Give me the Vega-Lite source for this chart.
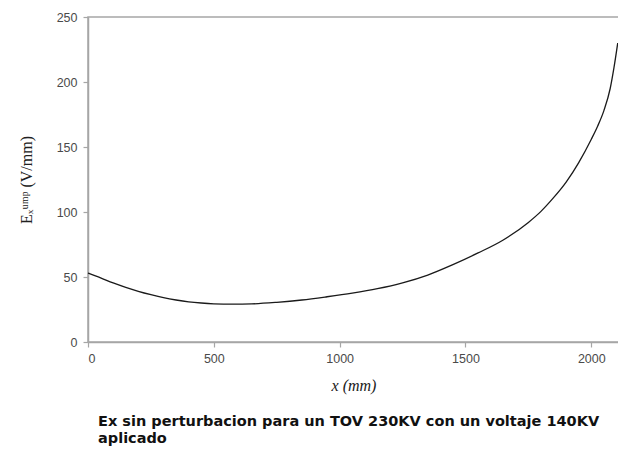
{
  "$schema": "https://vega.github.io/schema/vega-lite/v6.json",
  "width": 531,
  "height": 325,
  "autosize": "none",
  "padding": {"left": 88, "top": 17, "right": 0, "bottom": 109},
  "background": "white",
  "config": {
    "view": {"stroke": "#a6a6a6", "strokeWidth": 1.5},
    "axis": {
      "domainColor": "#a6a6a6",
      "domainWidth": 1.5,
      "tickColor": "#a6a6a6",
      "tickWidth": 1.2,
      "tickSize": 5,
      "grid": false,
      "labelFont": "Liberation Sans",
      "labelFontSize": 12.5,
      "labelColor": "#4a4a4a",
      "titleFont": "Liberation Serif",
      "titleFontSize": 16,
      "titleFontWeight": "normal",
      "titleColor": "#202020"
    }
  },
  "title": {
    "text": ["Ex sin perturbacion para un TOV 230KV con un voltaje 140KV", "aplicado"],
    "orient": "bottom",
    "anchor": "start",
    "frame": "group",
    "dx": 10,
    "offset": 21,
    "font": "DejaVu Sans",
    "fontSize": 14.5,
    "fontWeight": "bold",
    "color": "#111111",
    "lineHeight": 17
  },
  "data": {
    "values": [
      {"x": 0, "E": 53},
      {"x": 50, "E": 49.3},
      {"x": 100, "E": 45.4},
      {"x": 150, "E": 42},
      {"x": 200, "E": 39},
      {"x": 250, "E": 36.4},
      {"x": 300, "E": 34.1},
      {"x": 350, "E": 32.3},
      {"x": 400, "E": 30.9},
      {"x": 450, "E": 30},
      {"x": 500, "E": 29.4},
      {"x": 575, "E": 29.1},
      {"x": 650, "E": 29.3},
      {"x": 750, "E": 30.5},
      {"x": 850, "E": 32.3},
      {"x": 950, "E": 34.8},
      {"x": 1050, "E": 37.6},
      {"x": 1150, "E": 41},
      {"x": 1250, "E": 45.5},
      {"x": 1350, "E": 51.5},
      {"x": 1450, "E": 59.5},
      {"x": 1550, "E": 68.5},
      {"x": 1650, "E": 78.5},
      {"x": 1750, "E": 92},
      {"x": 1800, "E": 100.5},
      {"x": 1850, "E": 111},
      {"x": 1900, "E": 123},
      {"x": 1950, "E": 138},
      {"x": 2000, "E": 156},
      {"x": 2025, "E": 166},
      {"x": 2050, "E": 178},
      {"x": 2075, "E": 195},
      {"x": 2090, "E": 211},
      {"x": 2105, "E": 230}
    ]
  },
  "mark": {"type": "line", "color": "#1a1a1a", "strokeWidth": 1.3, "interpolate": "monotone"},
  "encoding": {
    "x": {
      "field": "x",
      "type": "quantitative",
      "scale": {"domain": [0, 2110], "nice": false},
      "axis": {"values": [0, 500, 1000, 1500, 2000], "format": "d", "title": "x  (mm)", "titlePadding": 13, "labelPadding": 5, "titleFontStyle": "italic"}
    },
    "y": {
      "field": "E",
      "type": "quantitative",
      "scale": {"domain": [0, 250], "nice": false},
      "axis": {"values": [0, 50, 100, 150, 200, 250], "format": "d", "title": "Eₓᵘᵐᵖ  (V/mm)", "titlePadding": 22, "labelPadding": 6}
    }
  }
}
